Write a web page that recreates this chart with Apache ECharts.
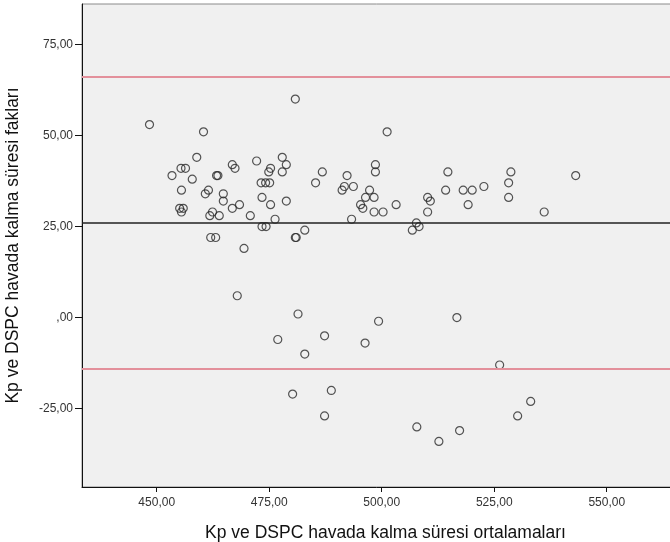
<!DOCTYPE html>
<html>
<head>
<meta charset="utf-8">
<script src="https://cdn.jsdelivr.net/npm/echarts@6/dist/echarts.min.js"></script>
<style>
html,body{margin:0;padding:0;background:#fff;}
#chart{width:670px;height:542px;}
</style>
</head>
<body>
<div id="chart"></div>
<script>
// Bland-Altman data: x = mean of the two methods, y = difference
const meanValues = [
  448.4, 460.4, 458.9, 455.4, 456.4, 453.4, 457.9, 463.3, 463.6, 466.8,
  467.4, 472.2, 455.5, 461.5, 460.8, 464.8, 464.8, 455.1, 455.9, 455.5,
  462.4, 461.8, 463.9, 466.8, 468.4, 470.8, 462.0, 463.1, 469.4, 480.8,
  477.9, 478.8, 475.3, 474.9, 477.9, 473.2, 474.2, 475.1, 473.4, 475.3,
  478.8, 476.3, 473.4, 474.3, 480.8, 481.0, 482.9, 486.8, 485.3, 492.3,
  491.7, 493.7, 491.2, 497.3, 496.4, 498.3, 495.3, 495.8, 498.3, 493.3,
  498.6, 498.6, 501.2, 500.3, 503.2, 510.2, 510.8, 510.2, 507.7, 508.3,
  506.8, 514.7, 514.2, 518.1, 520.1, 519.2, 522.7, 528.7, 528.2, 528.2,
  536.1, 543.1, 467.9, 481.4, 476.9, 487.3, 482.9, 499.3, 496.3, 480.2,
  488.8, 487.3, 507.8, 512.7, 516.7, 526.2, 533.1, 530.2, 517.3
];
const diffValues = [
  53, 51, 44, 41, 41, 39, 38, 39, 39, 42,
  41, 43, 35, 35, 34, 34, 32, 30, 30, 29,
  29, 28, 28, 30, 31, 28, 22, 22, 19, 60,
  44, 42, 41, 40, 40, 37, 37, 37, 33, 31,
  32, 27, 25, 25, 22, 22, 24, 40, 37, 39,
  36, 36, 35, 35, 33, 33, 31, 30, 29, 27,
  42, 40, 51, 29, 31, 33, 32, 29, 26, 25,
  24, 40, 35, 35, 35, 31, 36, 40, 37, 33,
  29, 39, 6, 1, -6, -5, -10, -1, -7, -21,
  -20, -27, -30, -34, 0, -13, -23, -27, -31
];
const meanDiff = 26.0;
const upperLimit = 66.0;
const lowerLimit = -13.9;
const xTicks = [450, 475, 500, 525, 550];
const yTicks = [-25, 0, 25, 50, 75];
const xTitle = 'Kp ve DSPC havada kalma süresi ortalamaları';
const yTitle = 'Kp ve DSPC havada kalma süresi fakları';

const points = meanValues.map((x, i) => [x, diffValues[i]]);

function fmt(v) {
  let s = Math.abs(v).toFixed(2).replace('.', ',');
  if (Math.abs(v) < 1) s = s.replace(/^0/, '');
  return (v < 0 ? '-' : '') + s;
}

const chart = echarts.init(document.getElementById('chart'), null, {renderer: 'canvas'});
const font = '"Liberation Sans", Arial, sans-serif';
chart.setOption({
  animation: false,
  backgroundColor: '#ffffff',
  grid: {
    left: 82, right: -2, top: 4, bottom: 55,
    outerBoundsMode: 'none', containLabel: false,
    show: true, backgroundColor: '#f0f0f0', borderColor: '#8a8a8a', borderWidth: 1
  },
  xAxis: {
    type: 'value', min: 433.4, max: 564.5,
    name: xTitle, nameLocation: 'middle', nameGap: 37,
    nameTextStyle: {fontFamily: font, fontSize: 17.5, color: '#111', padding: [0, 0, 0, 17]},
    axisLine: {show: true, onZero: false, lineStyle: {color: '#111', width: 1}},
    axisTick: {show: true, customValues: xTicks, length: 5, lineStyle: {color: '#111'}},
    axisLabel: {customValues: xTicks, formatter: fmt, fontFamily: font, fontSize: 12, color: '#333', margin: 10},
    splitLine: {show: false}
  },
  yAxis: {
    type: 'value', min: -46.5, max: 86.1,
    name: yTitle, nameLocation: 'middle', nameRotate: 90, nameGap: 60,
    nameTextStyle: {fontFamily: font, fontSize: 17.5, color: '#111'},
    axisLine: {show: true, onZero: false, lineStyle: {color: '#111', width: 1}},
    axisTick: {show: true, customValues: yTicks, length: 7, lineStyle: {color: '#111'}},
    axisLabel: {customValues: yTicks, formatter: fmt, fontFamily: font, fontSize: 12, color: '#333', margin: 9},
    splitLine: {show: false}
  },
  series: [{
    type: 'scatter',
    data: points,
    symbol: 'circle',
    symbolSize: 8,
    itemStyle: {color: 'rgba(0,0,0,0)', borderColor: '#2a2a2a', borderWidth: 1.2},
    markLine: {
      silent: true,
      symbol: 'none',
      label: {show: false},
      data: [
        {yAxis: upperLimit, lineStyle: {color: '#e3909b', width: 2, type: 'solid'}},
        {yAxis: lowerLimit, lineStyle: {color: '#e3909b', width: 2, type: 'solid'}},
        {yAxis: meanDiff, lineStyle: {color: '#222', width: 1.5, type: 'solid'}}
      ]
    }
  }]
});
</script>
</body>
</html>
